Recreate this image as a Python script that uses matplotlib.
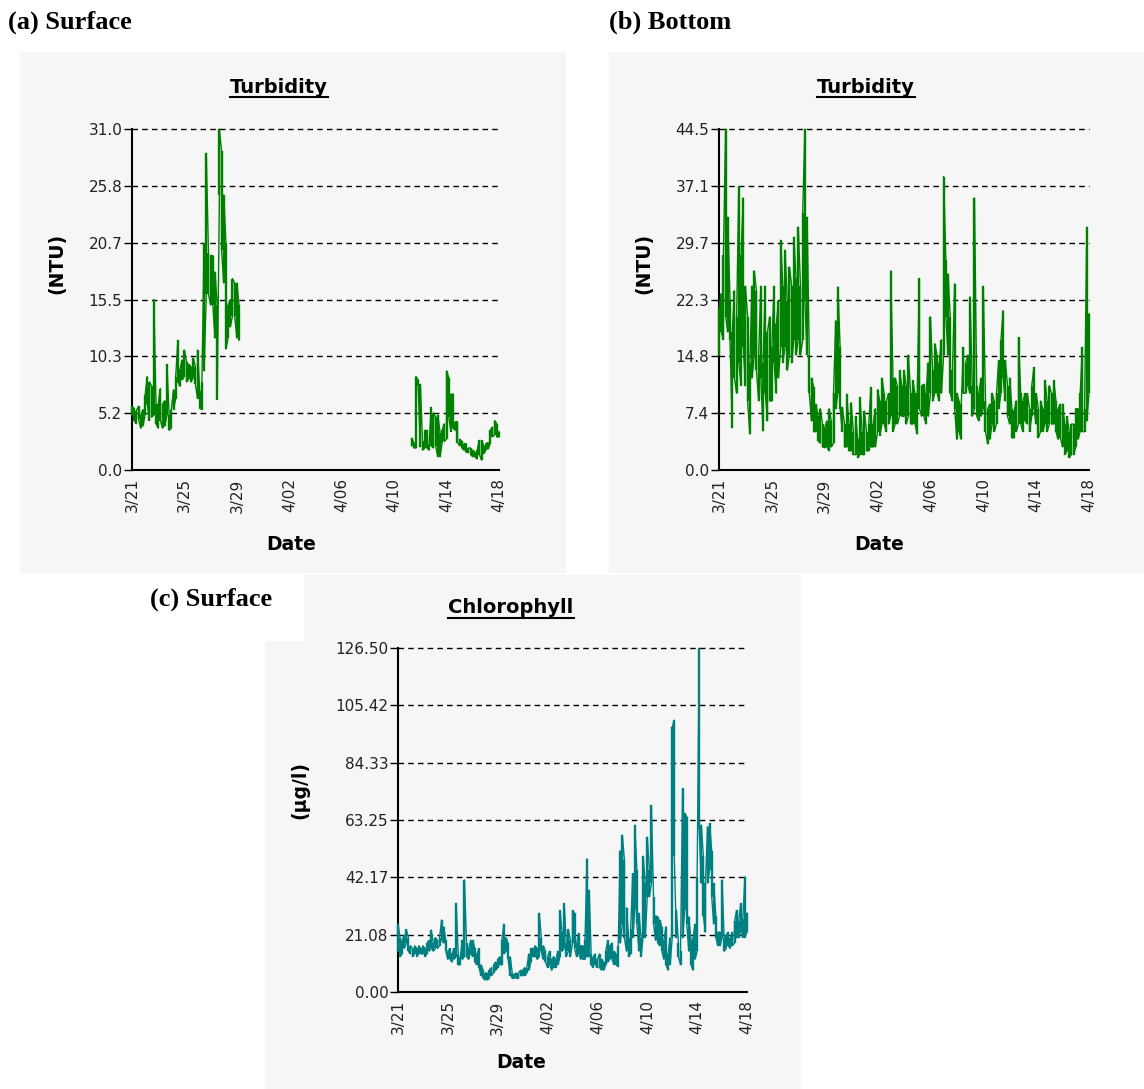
import numpy as np
import matplotlib.pyplot as plt
from matplotlib.patches import Rectangle
from matplotlib.lines import Line2D

W, H = 1144, 1089

# x axis: days after 3/21, tick every 4 days
date_ticks = [0, 4, 8, 12, 16, 20, 24, 28]
date_labels = ["3/21", "3/25", "3/29", "4/02", "4/06", "4/10", "4/14", "4/18"]
per_day = 6  # one low/high pair per 4-hour block

# (a) surface turbidity (NTU) - two stretches, logger gap between them
surf_start1 = 0.0
surf_lo1 = [5, 4.5, 4.2, 4.6, 3.8, 4,
            5, 6, 4.5, 4.8, 5, 4.2,
            3.8, 4.5, 3.8, 4, 5, 3.6,
            3.8, 5.5, 6.5, 8, 7.6, 8.2,
            8.5, 8, 8.3, 8, 8.4, 7.8,
            6.5, 5.6, 5.5, 9, 16, 16,
            15, 15, 12, 6.4, 25, 20,
            17, 11, 12, 13, 14, 14,
            12, 11.8]
surf_hi1 = [5.8, 5.6, 5.4, 5.8, 5, 5.5,
            6.8, 8.5, 8, 7.6, 15.5, 6,
            6, 7.4, 6, 6.3, 9.6, 5,
            5.5, 7.3, 8.5, 11.8, 9.2, 10,
            10.9, 9.8, 9.6, 9.4, 10.2, 9.4,
            10.9, 7.2, 8, 20.6, 28.8, 19.7,
            19.5, 19.5, 18, 15, 31, 29,
            25, 20.6, 15, 15.5, 17.4, 17,
            17, 15]
surf_start2 = 21 + 2 / 6
surf_lo2 = [2.2, 2, 2, 7.6, 2.1, 1.8, 2, 2, 1.8, 2.2, 2, 2.2, 1.2, 1.2,
            2.5, 2.6, 2.8, 4.8, 3.5, 3.8, 3.6, 2.5, 2.2, 2.0, 1.8, 1.6, 1.6,
            1.4, 1.2, 1.2, 1.0, 1.4, 0.9, 1.5, 1.8, 1.9, 2.4, 3.0, 3.2, 3.0, 3.0]
surf_hi2 = [2.9, 2.5, 8.5, 8.2, 7.8, 2.6, 3.6, 3.6, 2.4, 5.7, 5.2, 4.8, 5, 3.4,
            3.6, 4.2, 9.0, 8.4, 6.9, 6.9, 4.4, 4.4, 2.8, 2.6, 2.4, 2.4, 2.0,
            2.0, 1.8, 1.6, 1.8, 2.7, 2.7, 2.2, 2.4, 2.5, 3.6, 3.9, 4.5, 4.2, 3.5]

# (b) bottom turbidity (NTU)
bot_lo = [15, 18, 17, 20, 18, 17,
          5.5, 12, 10, 14, 11, 16,
          11, 9, 4.7, 12, 15, 13,
          9, 12, 5.1, 10, 6.4, 9,
          9, 14, 10, 12, 16, 14,
          16, 13, 15, 14, 17, 15,
          17, 15, 17, 22, 15, 10,
          6.4, 5, 5, 3.8, 3.5, 3,
          2.9, 3, 2.5, 3, 3.5, 8,
          10, 8, 5, 3, 3, 2.5,
          2.5, 2, 2, 1.6, 2, 2,
          2, 2.5, 2.5, 3, 3, 3,
          5, 4.5, 6, 6, 5, 6,
          7, 5, 6, 6, 7, 7,
          7, 6, 7, 6, 6, 6,
          4.7, 8, 7, 7, 6, 7,
          10, 9, 10, 10, 9, 10,
          15, 20, 15, 10, 9, 8,
          4, 5, 4, 10, 10, 11,
          10, 7, 8, 7, 6.4, 7,
          8, 5, 3.4, 4, 6, 5,
          6, 8, 10, 12, 9, 7,
          6, 4.2, 4.2, 5, 6, 6,
          5, 6.4, 6, 5, 7, 8,
          6, 4.2, 5, 5, 6, 5,
          6, 6, 6, 5, 4, 4.2,
          3, 2, 2.5, 1.6, 2, 2,
          3, 4, 5, 5, 5, 6.4,
          10]
bot_hi = [21, 23, 28, 44.5, 33, 22,
          18, 23.4, 20, 37, 28, 35.5,
          24, 20, 14, 24, 26, 23.4,
          15, 24, 14, 24, 18, 20,
          16, 24, 19, 22, 30, 24,
          28.7, 22, 26.5, 24, 30.4, 25,
          31.7, 24, 33.5, 44.5, 33, 15,
          12, 10.8, 8.6, 7, 8, 6,
          5.5, 6.4, 8, 6.4, 10, 19.5,
          23.9, 16, 8.2, 6, 9.9, 6,
          8.8, 5, 7, 4, 9.5, 5,
          7.7, 5, 6, 10.8, 6, 8,
          10.5, 9, 12, 10, 9, 10,
          26, 12, 12, 11, 13, 11,
          13, 11, 15, 10, 11.7, 10,
          10, 25, 11, 11.2, 10, 14,
          20, 13, 16.5, 15, 14, 17,
          38.3, 27.4, 25.6, 20, 13, 24.3,
          10, 9, 8.6, 16, 14, 15,
          22.6, 11, 35.5, 11, 10, 12,
          24, 9, 8, 8.6, 10, 9,
          10, 14.3, 16.9, 20.8, 14.3, 11,
          12, 8, 7.7, 9, 17.3, 10,
          9, 10, 10, 8, 11, 13.4,
          10, 8, 9, 8, 11.7, 9,
          11, 10, 11.7, 9, 8, 8.6,
          8.6, 6, 7, 5, 6, 6,
          8, 8, 10, 16, 8, 31.7,
          20.4]

# (c) surface chlorophyll (ug/l)
chl_lo = [15, 13, 14, 16, 18, 15,
          14, 13, 14, 13, 14, 14,
          14, 13, 14, 15, 16, 15,
          16, 16, 17, 19, 18, 15,
          12, 12, 11, 12, 13, 10,
          10, 12, 13, 13, 12, 14,
          13, 11, 10, 9, 6, 5,
          4.4, 4.4, 5, 6, 7, 8,
          9, 10, 10, 14, 15, 12,
          6, 5, 5, 5, 5, 6,
          6, 6, 7, 8, 11, 13,
          13, 12, 13, 15, 12, 11,
          9, 10, 8, 9, 9, 10,
          13, 15, 16, 13, 15, 13,
          18, 16, 13, 14, 12, 12,
          12, 13, 13, 10, 9, 10,
          9, 9, 8, 8, 10, 11,
          12, 12, 10, 10, 9.3, 18,
          25, 20, 15, 13, 14, 20,
          30, 25, 15, 13, 20, 20,
          35, 35, 40, 25, 19, 18,
          17, 15, 12, 10, 8, 10,
          20, 50, 20, 13, 10, 20,
          30, 25, 15, 10, 8, 12,
          15, 60, 40, 28, 22, 40,
          45, 35, 25, 20, 17, 17,
          20, 15, 16, 17, 16, 17,
          18, 20, 20, 22, 20, 20,
          22]
chl_hi = [25, 20, 19, 21, 23, 20,
          17, 16, 17, 16, 17, 16,
          17, 16, 18, 19, 22.8, 18,
          20, 19, 20, 26.5, 24, 19,
          15, 16, 14, 16, 32.6, 14,
          13, 19, 41.2, 18, 16, 19,
          19, 16, 14, 16, 10, 8,
          7, 6.9, 8, 9, 10, 11,
          12, 13, 19, 25, 20, 18,
          13, 7, 6.5, 7, 7, 8,
          8, 9, 9, 14, 16, 16,
          17, 16, 29, 20, 17, 15,
          13, 15, 12, 13, 12, 15,
          30, 22, 32.6, 18, 23, 19,
          30, 29, 18, 21.6, 17, 17,
          19, 49, 37.5, 14, 13, 14,
          12, 14, 12, 11, 15, 19,
          17, 18, 15, 14, 17, 52,
          57.7, 48.5, 31, 20, 23, 43.6,
          61.4, 45, 29, 20, 50, 40,
          57, 45, 68.7, 35, 28, 27.7,
          26.5, 24, 19, 24, 14, 20,
          97.5, 100, 30, 18, 15, 74.9,
          65.7, 64.5, 27.7, 19, 20, 25,
          42.4, 126.5, 61.4, 50, 40, 60.8,
          62, 52, 40, 28, 22, 22,
          41.2, 20, 21, 22, 20, 22,
          26, 30, 26, 32.6, 27, 42.4,
          29]

ntu_a_labels = ["0.0", "5.2", "10.3", "15.5", "20.7", "25.8", "31.0"]
ntu_b_labels = ["0.0", "7.4", "14.8", "22.3", "29.7", "37.1", "44.5"]
chl_labels = ["0.00", "21.08", "42.17", "63.25", "84.33", "105.42", "126.50"]


def strokes(start, lo, hi):
    # zig-zag through each block's low and high, like the logger plot does
    t = start + np.arange(len(lo)) / per_day
    lo, hi = np.asarray(lo, float), np.asarray(hi, float)
    even = np.arange(len(lo)) % 2 == 0
    y = np.column_stack([np.where(even, lo, hi), np.where(even, hi, lo)]).ravel()
    return t, lo, hi, np.repeat(t, 2), y


fig = plt.figure(figsize=(W / 100, H / 100), dpi=100)
fig.patch.set_facecolor("white")

bg = "#f6f6f6"
# grey backgrounds of the three screen grabs (pixel boxes)
for x0, y0, x1, y1 in [(20, 52, 565, 572), (609, 52, 1144, 572), (265, 575, 800, 1089)]:
    fig.add_artist(Rectangle((x0 / W, 1 - y1 / H), (x1 - x0) / W, (y1 - y0) / H,
                             transform=fig.transFigure, color=bg, zorder=-5))
fig.add_artist(Rectangle((265 / W, 1 - 640 / H), 38 / W, 65 / H,
                         transform=fig.transFigure, color="white", zorder=-4))


def panel(box, segments, color, ylabels):
    x0, x1, ytop, ybot = box
    ax = fig.add_axes([x0 / W, 1 - ybot / H, (x1 - x0) / W, (ybot - ytop) / H])
    ax.set_facecolor("none")
    ymax = float(ylabels[-1])
    for start, lo, hi in segments:
        t, lo_a, hi_a, tz, yz = strokes(start, lo, hi)
        ax.vlines(t, lo_a, hi_a, color=color, lw=1.7, zorder=3, clip_on=False)
        ax.plot(tz, yz, color=color, lw=1.0, zorder=3, clip_on=False)
    ax.set_xlim(0, 28)
    ax.set_ylim(0, ymax)
    yt = np.linspace(0, ymax, len(ylabels))
    ax.set_yticks(yt)
    ax.set_yticklabels(ylabels)
    for y in yt[1:]:
        ax.axhline(y, color="black", lw=1, ls=(0, (4, 3)), zorder=2, clip_on=False)
    ax.set_xticks(date_ticks)
    ax.set_xticklabels(date_labels, rotation=90)
    for s in ["top", "right"]:
        ax.spines[s].set_visible(False)
    for s in ["left", "bottom"]:
        ax.spines[s].set_linewidth(1.5)
    ax.tick_params(axis="y", length=6, width=1, pad=1, labelsize=11, labelcolor="#222222")
    ax.tick_params(axis="x", length=0, pad=6, labelsize=11, labelcolor="#222222")
    return ax


panel((132, 499, 129, 470),
      [(surf_start1, surf_lo1, surf_hi1), (surf_start2, surf_lo2, surf_hi2)],
      "#008000", ntu_a_labels)
panel((719, 1089, 129, 470), [(0, bot_lo, bot_hi)], "#008000", ntu_b_labels)
panel((398, 747, 648, 992), [(0, chl_lo, chl_hi)], "#008080", chl_labels)


def ftext(x, y, s, **kw):
    return fig.text(x / W, 1 - y / H, s, **kw)


serif = dict(family="Liberation Serif", weight="bold", fontsize=19, va="baseline", ha="left")
ftext(8, 29, "(a) Surface", **serif)
ftext(609, 29, "(b) Bottom", **serif)
ftext(150, 606, "(c) Surface", **serif)

titles = [ftext(279, 93, "Turbidity", fontsize=14, weight="bold", ha="center", va="baseline"),
          ftext(866, 93, "Turbidity", fontsize=14, weight="bold", ha="center", va="baseline"),
          ftext(511, 613, "Chlorophyll", fontsize=14, weight="bold", ha="center", va="baseline")]
under_y = [97, 97, 618]

lab = dict(fontsize=13.5, weight="bold", ha="center", va="center")
ftext(57, 263, "(NTU)", rotation=90, **lab)
ftext(644, 263, "(NTU)", rotation=90, **lab)
ftext(300, 790, "(\u00b5g/l)", rotation=90, **lab)
ftext(291, 545, "Date", **lab)
ftext(879, 545, "Date", **lab)
ftext(521, 1062, "Date", **lab)

# underline the chart titles
fig.canvas.draw()
r = fig.canvas.get_renderer()
for t, uy in zip(titles, under_y):
    bb = t.get_window_extent(r)
    fig.lines.append(Line2D([bb.x0 / W, bb.x1 / W], [1 - uy / H, 1 - uy / H],
                            transform=fig.transFigure, color="black", lw=1.5))

fig.savefig("out.png", dpi=100)
